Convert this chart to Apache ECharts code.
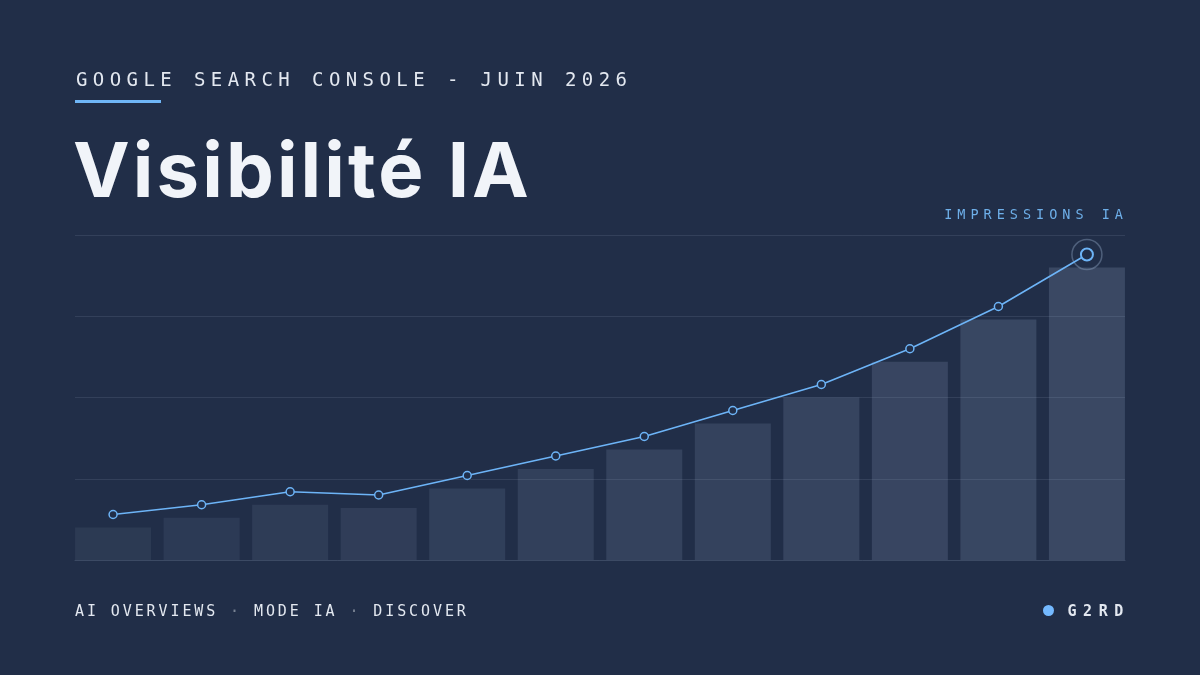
<!DOCTYPE html>
<html>
  <head>
    <meta charset="utf-8">
    <title>Visibilité IA</title>
    <script src="https://cdn.jsdelivr.net/npm/echarts@6/dist/echarts.min.js"></script>
    <style>
      html, body { margin: 0; padding: 0; background: #212e48; }
      #wrap { position: relative; width: 1200px; height: 675px; overflow: hidden; }
      #chart { position: absolute; left: 0; top: 0; width: 1200px; height: 675px; }
      .mono { font-family: "DejaVu Sans Mono", monospace; position: absolute; white-space: nowrap; }
      #kicker { left: 76px; top: 70px; font-size: 19px; line-height: 19px; letter-spacing: 5.42px; color: #e3e8f0; }
      #rule { position: absolute; left: 75px; top: 100px; width: 86px; height: 3px; background: #6fb6f7; }
      #title { position: absolute; left: 73px; top: 131px; font-family: Inter, sans-serif; font-weight: 700;
        font-size: 76px; line-height: 76px; letter-spacing: 3.1px; color: #f1f4f9; white-space: nowrap; }
      #series { right: 72px; top: 208px; font-size: 13.5px; line-height: 13.5px; letter-spacing: 5px; color: #6eafe9; }
      #footer { left: 75px; top: 604px; font-size: 15px; line-height: 15px; letter-spacing: 2.9px; color: #e3e8f0; }
      #footer .sep { color: rgba(227, 232, 240, 0.45); }
      #brand { right: 70px; top: 604px; font-size: 15px; line-height: 15px; letter-spacing: 6.6px; font-weight: 700; color: #e3e8f0; }
      #dot { position: absolute; left: 1043px; top: 605px; width: 11px; height: 11px; border-radius: 50%; background: #74b9ff; }
    </style>
  </head>
  <body>
    <div id="wrap">
      <div id="chart"></div>
      <div id="kicker" class="mono">GOOGLE SEARCH CONSOLE - JUIN 2026</div>
      <div id="rule"></div>
      <div id="title">Visibilité IA</div>
      <div id="series" class="mono">IMPRESSIONS IA</div>
      <div id="footer" class="mono">AI OVERVIEWS <span class="sep">·</span> MODE IA <span class="sep">·</span> DISCOVER</div>
      <div id="dot"></div>
      <div id="brand" class="mono">G2RD</div>
    </div>

    <script>
      // 12 periods (scale 0-100)
      var periods = ['1', '2', '3', '4', '5', '6', '7', '8', '9', '10', '11', '12'];
      var barValues = [10, 13, 17, 16, 22, 28, 34, 42, 50, 61, 74, 90];
      var lineValues = [14, 17, 21, 20, 26, 32, 38, 46, 54, 65, 78, 94];
      var yTicks = [0, 25, 50, 75, 100];

      var bg = '#212e48';
      var blue = '#6db4f7';

      var barData = barValues.map(function (v, i) {
        var a = 0.085 + 0.115 * i / (periods.length - 1);
        return { value: [i, v], itemStyle: { color: 'rgba(160,180,212,' + a.toFixed(3) + ')' } };
      });
      var lineData = lineValues.map(function (v, i) {
        var last = i === periods.length - 1;
        return { value: [i, v], symbolSize: last ? 12 : 8, itemStyle: { borderWidth: last ? 2 : 1.5 } };
      });
      var lastIdx = periods.length - 1;

      var chart = echarts.init(document.getElementById('chart'), null, { renderer: 'canvas' });
      chart.setOption({
        backgroundColor: bg,
        animation: false,
        grid: { left: 75, right: 75, top: 235, bottom: 115 },
        xAxis: {
          type: 'value',
          min: -0.43,
          max: periods.length - 1 + 0.43,
          axisLine: { show: true, onZero: false, lineStyle: { color: '#3c4a64', width: 1 } },
          axisTick: { show: false },
          axisLabel: { show: false },
          splitLine: { show: false }
        },
        yAxis: {
          type: 'value',
          min: yTicks[0],
          max: yTicks[yTicks.length - 1],
          interval: yTicks[1] - yTicks[0],
          axisLine: { show: false },
          axisTick: { show: false },
          axisLabel: { show: false },
          splitLine: { lineStyle: { color: 'rgba(148,163,184,0.16)', width: 1 } }
        },
        series: [
          {
            name: 'base',
            type: 'bar',
            barWidth: 76,
            data: barData,
            z: 1
          },
          {
            name: 'Impressions IA',
            type: 'line',
            data: lineData,
            symbol: 'circle',
            lineStyle: { color: blue, width: 1.6 },
            itemStyle: { color: bg, borderColor: blue },
            z: 3
          },
          {
            name: 'halo',
            type: 'scatter',
            data: [[lastIdx, lineValues[lastIdx]]],
            symbolSize: 30,
            itemStyle: { color: 'rgba(0,0,0,0)', borderColor: 'rgba(148,170,200,0.5)', borderWidth: 1.5 },
            z: 2
          }
        ]
      });
    </script>
  </body>
</html>
